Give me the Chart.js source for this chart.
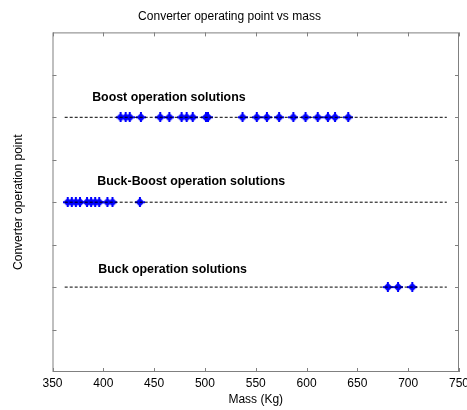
<!DOCTYPE html>
<html>
<head>
<meta charset="utf-8">
<script src="https://cdn.jsdelivr.net/npm/chart.js@4.4.0/dist/chart.umd.min.js"></script>
<style>
html, body { margin: 0; padding: 0; background: #fff; }
</style>
</head>
<body>
<canvas id="opChart" width="467" height="410"></canvas>
<script>
// masses (kg) of the solutions found for each converter type
const boostMass = [417, 422, 426, 437, 456, 465, 477, 482, 488, 501, 503, 537, 551, 561, 573, 587, 599, 611, 621, 628, 641];
const buckBoostMass = [365, 369, 373, 377, 384, 388, 392, 396, 404, 409, 436];
const buckMass = [680, 690, 704];

// operating point level of each converter type
const boostLevel = 3;
const buckBoostLevel = 2;
const buckLevel = 1;

// extent of the dotted guide lines
const guideRange = [362, 738];

const xTickValues = [350, 400, 450, 500, 550, 600, 650, 700, 750];
const yTickValues = [0.5, 1, 1.5, 2, 2.5, 3, 3.5];

const rowLabels = [
    { text: 'Boost operation solutions', x: 389, y: 3.235 },
    { text: 'Buck-Boost operation solutions', x: 394, y: 2.247 },
    { text: 'Buck operation solutions', x: 395, y: 1.212 }
];

Chart.defaults.font.family = '"Liberation Sans", Arial, sans-serif';
Chart.defaults.color = '#000';

// blue diamond/plus marker
const marker = document.createElement('canvas');
marker.width = 10;
marker.height = 10;
const m = marker.getContext('2d');
m.fillStyle = '#0000ff';
m.beginPath();
m.moveTo(5, 0.5); m.lineTo(9.5, 5); m.lineTo(5, 9.5); m.lineTo(0.5, 5);
m.closePath();
m.fill();
m.fillRect(0, 4, 10, 2);
m.fillRect(4, 0, 2, 10);

const points = (masses, level) => masses.map(v => ({ x: v, y: level }));
const guide = level => guideRange.map(v => ({ x: v, y: level }));

const guideStyle = {
    type: 'line',
    borderColor: '#000',
    borderWidth: 1,
    borderDash: [3, 2],
    pointRadius: 0,
    fill: false
};
const markerStyle = {
    type: 'scatter',
    pointStyle: marker,
    pointRadius: 5,
    backgroundColor: '#0000ff',
    borderColor: '#0000ff'
};

// frame, inward ticks and row labels
const framePlugin = {
    id: 'frame',
    afterDraw(chart) {
        const { ctx, chartArea: a, scales: { x, y } } = chart;
        ctx.save();
        ctx.strokeStyle = '#808080';
        ctx.lineWidth = 1;
        ctx.strokeRect(a.left + 0.5, a.top + 0.5, a.right - a.left - 1, a.bottom - a.top - 1);
        ctx.beginPath();
        xTickValues.forEach(v => {
            const px = Math.round(x.getPixelForValue(v)) + 0.5;
            ctx.moveTo(px, a.top); ctx.lineTo(px, a.top + 4);
            ctx.moveTo(px, a.bottom); ctx.lineTo(px, a.bottom - 4);
        });
        yTickValues.forEach(v => {
            const py = Math.round(y.getPixelForValue(v)) + 0.5;
            ctx.moveTo(a.left, py); ctx.lineTo(a.left + 4, py);
            ctx.moveTo(a.right, py); ctx.lineTo(a.right - 4, py);
        });
        ctx.stroke();

        ctx.fillStyle = '#000';
        ctx.font = 'bold 12.4px "Liberation Sans", Arial, sans-serif';
        ctx.textBaseline = 'middle';
        rowLabels.forEach(l => {
            ctx.fillText(l.text, x.getPixelForValue(l.x), y.getPixelForValue(l.y));
        });
        ctx.restore();
    }
};

const ctx = document.getElementById('opChart').getContext('2d');

const opChart = new Chart(ctx, {
    type: 'scatter',
    data: {
        datasets: [
            { ...guideStyle, data: guide(boostLevel) },
            { ...guideStyle, data: guide(buckBoostLevel) },
            { ...guideStyle, data: guide(buckLevel) },
            { ...markerStyle, label: 'Boost', data: points(boostMass, boostLevel) },
            { ...markerStyle, label: 'Buck-Boost', data: points(buckBoostMass, buckBoostLevel) },
            { ...markerStyle, label: 'Buck', data: points(buckMass, buckLevel) }
        ]
    },
    options: {
        responsive: false,
        animation: false,
        layout: {
            padding: { left: 0, right: 8, top: 0, bottom: 0 }
        },
        plugins: {
            legend: { display: false },
            tooltip: { enabled: false },
            title: {
                display: true,
                text: 'Converter operating point vs mass',
                font: { size: 12, weight: 'normal' },
                padding: { top: 9, bottom: 9 }
            }
        },
        scales: {
            x: {
                type: 'linear',
                min: 350,
                max: 750,
                afterBuildTicks: s => { s.ticks = xTickValues.map(v => ({ value: v })); },
                ticks: { font: { size: 12 }, padding: 4 },
                grid: { display: false, drawTicks: false },
                border: { display: false },
                title: {
                    display: true,
                    text: 'Mass (Kg)',
                    font: { size: 12 },
                    padding: { top: 0, bottom: 3 }
                },
                afterFit: s => {
                    s.height = 38;
                    s.paddingLeft = 0;
                    s.paddingRight = 0;
                }
            },
            y: {
                type: 'linear',
                min: 0,
                max: 4,
                ticks: { display: false },
                grid: { display: false, drawTicks: false },
                border: { display: false },
                title: {
                    display: true,
                    text: 'Converter operation point',
                    font: { size: 12 },
                    padding: { top: 11, bottom: 0 }
                },
                afterFit: s => { s.width = 52.5; }
            }
        }
    },
    plugins: [framePlugin]
});
</script>
</body>
</html>
